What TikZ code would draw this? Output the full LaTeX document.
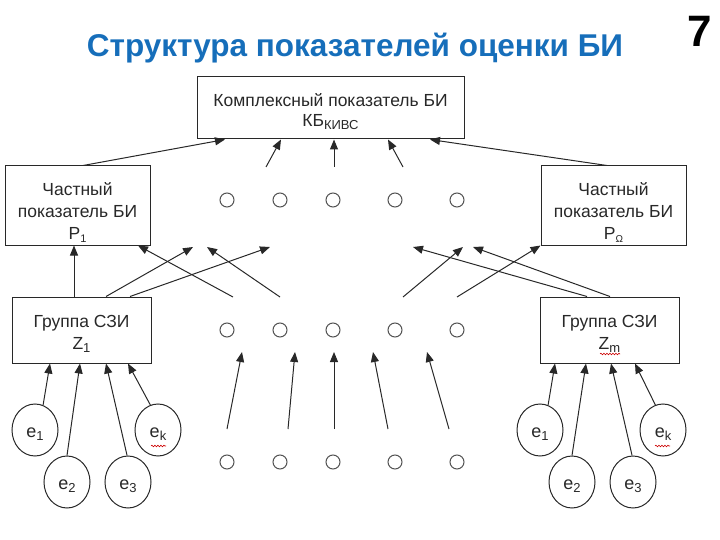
\documentclass[tikz,border=0pt]{standalone}
\usepackage{fontspec}
\setmainfont{Liberation Sans}
\usetikzlibrary{arrows.meta,shapes.geometric,decorations.pathmorphing}
\definecolor{titleblue}{RGB}{22,110,186}
\definecolor{ink}{RGB}{40,40,40}
\begin{document}
\begin{tikzpicture}[x=1pt,y=-1pt,
  box/.style={draw=ink,line width=1pt,rectangle,inner sep=0pt},
  txt/.style={inner sep=0pt,align=center,text=ink,font=\fontsize{17.5}{22}\selectfont},
  dot/.style={draw=ink!80,line width=1pt,circle,minimum size=14pt,inner sep=0pt},
  elem/.style={draw=ink,line width=1pt,ellipse,minimum width=46pt,minimum height=52pt,inner sep=0pt},
  etxt/.style={inner sep=0pt,text=ink,font=\fontsize{18}{18}\selectfont},
  arr/.style={draw=ink,line width=1pt,-{Triangle[length=10pt,width=8pt]}},
  squig/.style={draw=red!80!black,line width=0.6pt,decorate,decoration={snake,amplitude=0.8pt,segment length=3pt}}]
\useasboundingbox (0,0) rectangle (720,540);
% title
\node[font=\bfseries\fontsize{31.5}{34}\selectfont,text=titleblue] (title) at (355,48) {Структура показателей оценки БИ};
\node[font=\bfseries\fontsize{44}{46}\selectfont] (num) at (700,31) {7};
% boxes
\node[box,minimum width=267pt,minimum height=62pt] (KB) at (330.5,108) {};
\node[txt,font=\fontsize{17.5}{20}\selectfont] (KBt) at ([yshift=-4pt]KB.center) {Комплексный показатель БИ\\КБ\raisebox{-3pt}{\fontsize{13}{13}\selectfont КИВС}};
\node[box,minimum width=145pt,minimum height=79pt] (P1) at (77.5,205.5) {};
\node[txt] (P1t) at ([yshift=-7pt]P1.center) {Частный\\показатель БИ\\P\raisebox{-3pt}{\fontsize{11}{11}\selectfont 1}};
\node[box,minimum width=145pt,minimum height=79pt] (PW) at (613.5,205.5) {};
\node[txt] (PWt) at ([yshift=-7pt]PW.center) {Частный\\показатель БИ\\P\raisebox{-3pt}{\fontsize{10}{10}\selectfont Ω}};
\node[box,minimum width=139pt,minimum height=66pt] (Z1) at (81.5,330) {};
\node[txt] (Z1t) at ([yshift=-4pt]Z1.center) {Группа СЗИ\\Z\raisebox{-3pt}{\fontsize{13}{13}\selectfont 1}};
\node[box,minimum width=139pt,minimum height=66pt] (ZM) at (609.5,330) {};
\node[txt] (ZMt) at ([yshift=-4pt]ZM.center) {Группа СЗИ\\Z\raisebox{-3pt}{\fontsize{13}{13}\selectfont m}};
% dots
\foreach \i/\x in {1/227,2/280,3/333,4/395,5/457}{
  \node[dot] (a\i) at (\x,200) {};
  \node[dot] (b\i) at (\x,330) {};
  \node[dot] (c\i) at (\x,462) {};
}
% elements
\foreach \n/\x/\y/\s in {le1/35/430/1,le2/67/482/2,le3/128/482/3,lek/158/430/k,re1/540/430/1,re2/572/482/2,re3/633/482/3,rek/663/430/k}{
  \node[elem] (\n) at (\x,\y) {};
  \node[etxt] (\n t) at ([yshift=-4pt]\n.center) {e\raisebox{-3pt}{\fontsize{13}{13}\selectfont \s}};
}
% element arrows
\draw[arr] (le1.72) -- (50,0 |- Z1.south);
\draw[arr] (le2.90) -- (80,0 |- Z1.south);
\draw[arr] (le3.92) -- (106,0 |- Z1.south);
\draw[arr] (lek.107) -- (128,0 |- Z1.south);
\draw[arr] (re1.72) -- (555,0 |- ZM.south);
\draw[arr] (re2.90) -- (586,0 |- ZM.south);
\draw[arr] (re3.92) -- (611,0 |- ZM.south);
\draw[arr] (rek.107) -- (635,0 |- ZM.south);
% free arrows between dot rows 3 and 2
\coordinate (s1) at (227,429); \coordinate (t1) at (242,352);
\coordinate (s2) at (288,429); \coordinate (t2) at (295,352);
\coordinate (s3) at (334,429); \coordinate (t3) at (334,352);
\coordinate (s4) at (388,429); \coordinate (t4) at (373,352);
\coordinate (s5) at (449,429); \coordinate (t5) at (427,352);
\foreach \i in {1,...,5}{\draw[arr] (s\i) -- (t\i);}
% level 2 -> level 1
\draw[arr] (74,0 |- Z1.north) -- (74,0 |- P1.south);
\coordinate (u1) at (193,247); \coordinate (u2) at (270,247);
\draw[arr] (106,0 |- Z1.north) -- (u1);
\draw[arr] (130,0 |- Z1.north) -- (u2);
\coordinate (v1) at (233,297); \coordinate (v2) at (280,297); \coordinate (u3) at (207,247);
\draw[arr] (v1) -- (138,0 |- P1.south);
\draw[arr] (v2) -- (u3);
\coordinate (v3) at (403,297); \coordinate (v4) at (457,297);
\coordinate (u4) at (463,247);
\draw[arr] (v3) -- (u4);
\draw[arr] (v4) -- (PW.south west);
\coordinate (u5) at (413,247); \coordinate (u6) at (473,247);
\draw[arr] (587,0 |- ZM.north) -- (u5);
\draw[arr] (610,0 |- ZM.north) -- (u6);
% level 1 -> top
\draw[arr] (83,0 |- P1.north) -- (225,0 |- KB.south);
\coordinate (w1) at (266,167); \coordinate (w2) at (334,167); \coordinate (w3) at (403,167);
\draw[arr] (w1) -- (281,0 |- KB.south);
\draw[arr] (w2) -- (334,0 |- KB.south);
\draw[arr] (w3) -- (388,0 |- KB.south);
\draw[arr] (607,0 |- PW.north) -- (430,0 |- KB.south);
% spell-check squiggles
\draw[squig] (600,354) -- (620,354);
\draw[squig] (151,446) -- (166,446);
\draw[squig] (655,446) -- (670,446);
\end{tikzpicture}
\end{document}
